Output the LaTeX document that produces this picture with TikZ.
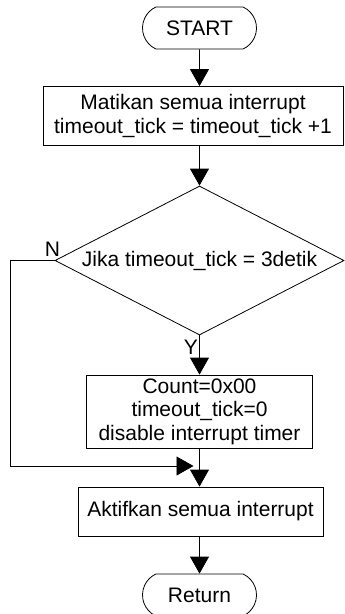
\documentclass[tikz,border=0pt]{standalone}
\usepackage{fontspec}
\setmainfont{Liberation Sans}
\usetikzlibrary{shapes.geometric,shapes.misc,arrows.meta}

\begin{document}
\begin{tikzpicture}[x=1pt,y=-1pt,font=\fontsize{21pt}{23.5pt}\selectfont]
\tikzstyle{terminal}=[rounded rectangle, rounded rectangle arc length=130, draw, line width=0.8pt, minimum width=114pt, minimum height=42pt, inner sep=0pt]
\tikzstyle{process}=[rectangle, draw, line width=0.8pt, align=center, inner sep=2pt]
\tikzstyle{decision}=[diamond, draw, line width=0.8pt, aspect=1.94, minimum width=289pt, minimum height=149pt, inner sep=0pt]
\tikzstyle{flow}=[-{Triangle[width=19pt,length=17pt]},black,line width=0.8pt]
\useasboundingbox (0,0) rectangle (345,614);

\node[style=terminal] (start) at (199.5,28) {START};
\node[style=process, minimum width=300pt, minimum height=59pt] (tick) at (193,116) {Matikan semua interrupt\\timeout\_tick = timeout\_tick +1};
\node[style=decision] (check) at (199.5,260.5) {Jika timeout\_tick = 3detik};
\node[style=process, minimum width=226pt, minimum height=73pt] (reset) at (199.5,411.5) {Count=0x00\\timeout\_tick=0\\disable interrupt timer};
\node[style=process, minimum width=245pt, minimum height=49pt] (enable) at (200.5,511.5) {Aktifkan semua interrupt};
\node[style=terminal] (ret) at (199.5,595) {Return};

\node (no) at (52.5,249) {N};
\node (yes) at (191,347.5) {Y};

\coordinate (loop) at (10,466);
\coordinate (merge) at (199.5,466);

\draw[style=flow] (start) -- (start |- tick.north);
\draw[style=flow] (start |- tick.south) -- (check);
\draw[style=flow] (check) -- (reset);
\draw[style=flow] (reset) -- (reset |- enable.north);
\draw[style=flow] (reset |- enable.south) -- (ret);

\draw[style=flow, shorten >=6pt] (check.west) -| (loop) -- (merge);

\end{tikzpicture}
\end{document}
